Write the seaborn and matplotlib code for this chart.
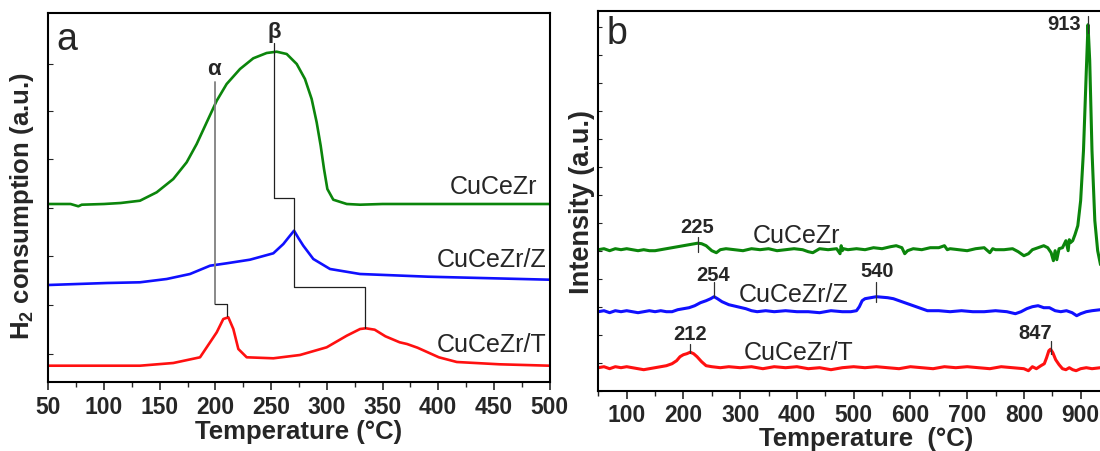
import numpy as np
import pandas as pd
import matplotlib
matplotlib.use("Agg")
import matplotlib.pyplot as plt
import seaborn as sns
from matplotlib.ticker import MultipleLocator, FixedLocator

sns.set_style("ticks")
plt.rcParams['font.family'] = ['Liberation Sans', 'DejaVu Sans']
plt.rcParams['mathtext.fontset'] = 'custom'
plt.rcParams['mathtext.rm'] = 'Liberation Sans'
plt.rcParams['mathtext.bf'] = 'Liberation Sans:bold'
plt.rcParams['mathtext.it'] = 'Liberation Sans:italic'

# ---------------- Panel a data (H2-TPR) ----------------
a_green_T = [50, 70, 77, 80, 100, 115, 132.3, 147.3, 162.2, 174.2, 183.2, 192.2, 201.2, 210.1, 222.1,
             234, 246, 255, 264, 273, 280.4, 286.4, 290.9, 294.5, 297.5, 300.5, 305.8, 317.9, 329.9,
             350, 400, 450, 500]
a_green_y = [178, 178, 175.7, 177.3, 178, 179, 181.3, 189.7, 203, 219.7, 238, 259.7, 281.3, 298, 313,
             323.7, 329, 330.3, 328, 318, 303, 283, 259.7, 236.3, 213, 193, 182.3, 178, 177.3,
             178, 178, 178, 178]

a_blue_T = [50, 102.6, 132.3, 156.3, 177.2, 195.2, 210.1, 231, 252, 261, 266, 270.6, 274.5, 278.9,
            287.9, 302.9, 329.8, 391, 500]
a_blue_y = [97, 99, 99.7, 103, 108, 116.3, 118.7, 122.3, 128.7, 138, 145, 151.3, 144, 136.3,
            123, 113, 108, 105.3, 102.3]

a_red_T = [50, 132.3, 162.2, 186.2, 195.2, 201.2, 207.1, 211.6, 216.1, 220.6, 228.1, 252, 275.9,
           299.9, 317.9, 329.9, 335, 343, 352.6, 365.4, 372, 381.4, 388, 400.6, 416.7, 455, 500]
a_red_y = [16.3, 16.3, 19, 24.7, 39.7, 49.7, 63, 64.7, 53, 33, 24.7, 23.7, 27,
           34.7, 46.3, 53, 53.7, 52.3, 45.7, 39.7, 38, 34.3, 31, 24.7, 20, 17.7, 16.3]

a_names = ["CuCeZr", "CuCeZr/Z", "CuCeZr/T"]
a_xticks = [50, 100, 150, 200, 250, 300, 350, 400, 450, 500]

# ---------------- Panel b data ----------------
b_green_T = [50, 60, 70, 80, 90, 100, 110, 120, 130, 140, 150, 160, 170, 180, 190, 200, 210, 220, 225,
             232, 240, 250, 258, 265, 275, 290, 305, 320, 335, 350, 365, 380, 395, 410, 420, 428, 440,
             455, 470, 476, 478, 480, 482, 490, 505, 520, 535, 550, 565, 575, 585, 590, 595, 605, 620,
             635, 650, 660, 665, 670, 685, 700, 715, 730, 740, 745, 750, 765, 780, 790, 800, 808, 815,
             825, 835, 842, 848, 852, 855, 858, 862, 868, 874, 878, 880, 882, 886, 890, 895, 900, 905,
             910, 913, 916, 920, 925, 930, 935]
b_green_y = [141, 142, 140, 142, 141, 142, 141, 140, 141, 140, 140, 141, 142, 143, 144, 145, 146, 147,
             147.5, 147, 145, 140, 138, 141, 142, 141, 140, 142, 141, 142, 140, 141, 142, 141, 139, 138,
             142, 141, 142, 137, 145, 140, 142, 141, 142, 141, 143, 142, 144, 145, 143, 137, 140, 142,
             141, 143, 143, 145, 141, 142, 141, 140, 142, 143, 138, 142, 141, 141, 142, 139, 135, 137,
             141, 143, 145, 143, 138, 130, 140, 131, 142, 143, 150, 140, 151, 148, 150, 156, 165, 190,
             240, 320, 366, 330, 240, 170, 140, 126]

b_blue_T = [50, 60, 70, 80, 90, 100, 110, 120, 130, 140, 150, 160, 170, 180, 190, 200, 210, 220, 230,
            240, 248, 254, 260, 268, 280, 295, 310, 320, 330, 345, 360, 380, 400, 420, 440, 460, 480,
            495, 505, 510, 515, 520, 530, 540, 550, 560, 570, 580, 590, 600, 615, 630, 650, 670, 690,
            710, 730, 750, 770, 785, 795, 805, 815, 825, 835, 845, 855, 865, 875, 885, 893, 900, 910,
            920, 935]
b_blue_y = [79, 80, 78, 80, 79, 80, 79, 78, 79, 80, 79, 80, 79, 79, 81, 82, 83, 85, 88, 90, 92, 94,
            92, 89, 86, 84, 82, 80, 79, 80, 79, 80, 79, 79, 78, 80, 79, 79, 80, 84, 90, 92, 93, 94,
            93.5, 93, 92, 90, 88, 86, 83, 80, 80, 79, 80, 79, 79, 80, 79, 77, 79, 82, 84, 85, 83, 83,
            80, 79, 80, 78, 75, 77, 79, 80, 81]

b_red_T = [50, 60, 70, 80, 90, 100, 110, 120, 130, 140, 150, 160, 170, 180, 188, 194, 200, 206, 212,
           218, 224, 232, 240, 250, 265, 280, 300, 320, 340, 360, 380, 400, 420, 440, 460, 480, 500,
           520, 540, 560, 580, 600, 620, 640, 660, 680, 700, 720, 740, 760, 780, 800, 808, 815, 822,
           830, 836, 840, 844, 847, 851, 856, 862, 868, 874, 880, 886, 892, 900, 910, 920, 935]
b_red_y = [23, 24, 22, 24, 23, 24, 23, 22, 21, 22, 23, 24, 25, 27, 30, 34, 36, 37, 38.5, 37, 34, 29,
           25, 24, 23, 24, 23, 24, 22, 24, 23, 24, 22, 23, 21, 23, 24, 23, 24, 23, 22, 24, 23, 22, 24,
           23, 24, 23, 22, 24, 23, 22, 20, 24, 22, 25, 27, 33, 40, 41.5, 38, 31, 26, 22, 21, 23, 21,
           20, 22, 23, 22, 23]

b_names = ["CuCeZr", "CuCeZr/Z", "CuCeZr/T"]
b_xticks = [100, 200, 300, 400, 500, 600, 700, 800, 900]
b_peaks = ["225", "254", "540", "212", "847", "913"]

GREEN = "#0b850b"
BLUE = "#1010ff"
RED = "#ff1010"

fig = plt.figure(figsize=(11, 4.52), dpi=100)
axa = fig.add_axes([48.3 / 1100, 1 - 383 / 452, (549.6 - 48.3) / 1100, (383 - 14) / 452])
axb = fig.add_axes([598.3 / 1100, 1 - 391.7 / 452, (1100.5 - 598.3) / 1100, (391.7 - 11.7) / 452])

# ---- panel a ----
for T, y, c in [(a_green_T, a_green_y, GREEN), (a_blue_T, a_blue_y, BLUE), (a_red_T, a_red_y, RED)]:
    sns.lineplot(x=T, y=y, ax=axa, color=c, lw=1.9, estimator=None, sort=False)
axa.set_xlim(50, 500)
axa.set_ylim(0, 369)

# peak guide lines
axa.plot([199.6, 199.6], [299.7, 78], color="#808080", lw=1.3)
axa.plot([199.6, 210.7, 210.7], [78, 78, 66.3], color="#202020", lw=0.9)
axa.plot([252.9, 252.9], [338.7, 184], color="#202020", lw=0.9)
axa.plot([252.9, 270.8, 270.8, 334, 334], [184, 184, 94.7, 94.7, 53.7], color="#202020", lw=0.9)
axa.text(199, 313, "α", fontsize=16, fontweight="bold", ha="center", va="center")
axa.text(252.6, 350, "β", fontsize=16, fontweight="bold", ha="center", va="center")
axa.text(488.6, 196, a_names[0], fontsize=18, ha="right", va="center")
axa.text(496.8, 123, a_names[1], fontsize=18, ha="right", va="center")
axa.text(496.8, 38, a_names[2], fontsize=18, ha="right", va="center")
axa.text(57, 343, "a", fontsize=27, ha="left", va="center")

axa.xaxis.set_major_locator(FixedLocator(a_xticks))
axa.xaxis.set_minor_locator(MultipleLocator(25))
axa.yaxis.set_major_locator(FixedLocator([28, 77, 126, 174, 223, 271, 318]))
axa.set_yticklabels([])
axa.tick_params(axis="x", which="major", direction="out", length=6, width=1.2, pad=3,
                labelsize=16.5, top=False)
axa.tick_params(axis="x", which="minor", direction="out", length=3.5, width=1.0, top=False)
axa.tick_params(axis="y", which="major", direction="in", length=3.5, width=0.8, left=True, right=False)
for lab in axa.get_xticklabels():
    lab.set_fontweight("bold")
axa.set_xlabel("Temperature (°C)", fontsize=18.5, fontweight="bold", labelpad=1)
axa.set_ylabel(r"H$_{\mathbf{2}}$ consumption (a.u.)", fontsize=18.5, fontweight="bold")
axa.yaxis.set_label_coords(-0.0245, 0.478)
for s in axa.spines.values():
    s.set_linewidth(1.5)
    s.set_color("black")

# ---- panel b ----
for T, y, c in [(b_green_T, b_green_y, GREEN), (b_blue_T, b_blue_y, BLUE), (b_red_T, b_red_y, RED)]:
    sns.lineplot(x=T, y=y, ax=axb, color=c, lw=2.2, estimator=None, sort=False)
axb.set_xlim(50, 935)
axb.set_ylim(0, 380)

mark = [(225, 139, 153.3, 225, 164), (254, 93.7, 108.8, 253, 116.5), (540, 88.7, 108.8, 542, 119.9),
        (212, 37.5, 46.9, 212, 57), (847, 36.8, 49.5, 820, 58.6), (913, 358, 375, 870, 367.6)]
for (t, y0, y1, tx, ty), lab in zip(mark, b_peaks):
    axb.plot([t, t], [y0, y1], color="#303030", lw=0.9)
    axb.text(tx, ty, lab, fontsize=14.5, fontweight="bold", ha="center", va="center")
axb.text(400, 155.7, b_names[0], fontsize=18, ha="center", va="center")
axb.text(394, 97, b_names[1], fontsize=18, ha="center", va="center")
axb.text(403, 38.5, b_names[2], fontsize=18, ha="center", va="center")
axb.text(65, 358, "b", fontsize=27, ha="left", va="center")

axb.xaxis.set_major_locator(FixedLocator(b_xticks))
axb.xaxis.set_minor_locator(MultipleLocator(50))
axb.yaxis.set_major_locator(MultipleLocator(28))
axb.set_yticklabels([])
axb.tick_params(axis="x", which="major", direction="out", length=6, width=1.2, pad=3,
                labelsize=16.5, top=False)
axb.tick_params(axis="x", which="minor", direction="out", length=3.5, width=1.0, top=False)
axb.tick_params(axis="y", which="major", direction="in", length=3, width=0.8, left=True, right=False)
for lab in axb.get_xticklabels():
    lab.set_fontweight("bold")
axb.set_xlabel("Temperature  (°C)", fontsize=18.5, fontweight="bold")
axb.xaxis.set_label_coords(0.533, -0.094)
axb.set_ylabel("Intensity (a.u.)", fontsize=19.5, fontweight="bold")
axb.yaxis.set_label_coords(-0.007, 0.5)
axb.spines["right"].set_visible(False)
for k in ["left", "top", "bottom"]:
    axb.spines[k].set_linewidth(1.5)
    axb.spines[k].set_color("black")

fig.savefig("out.png", dpi=100)
